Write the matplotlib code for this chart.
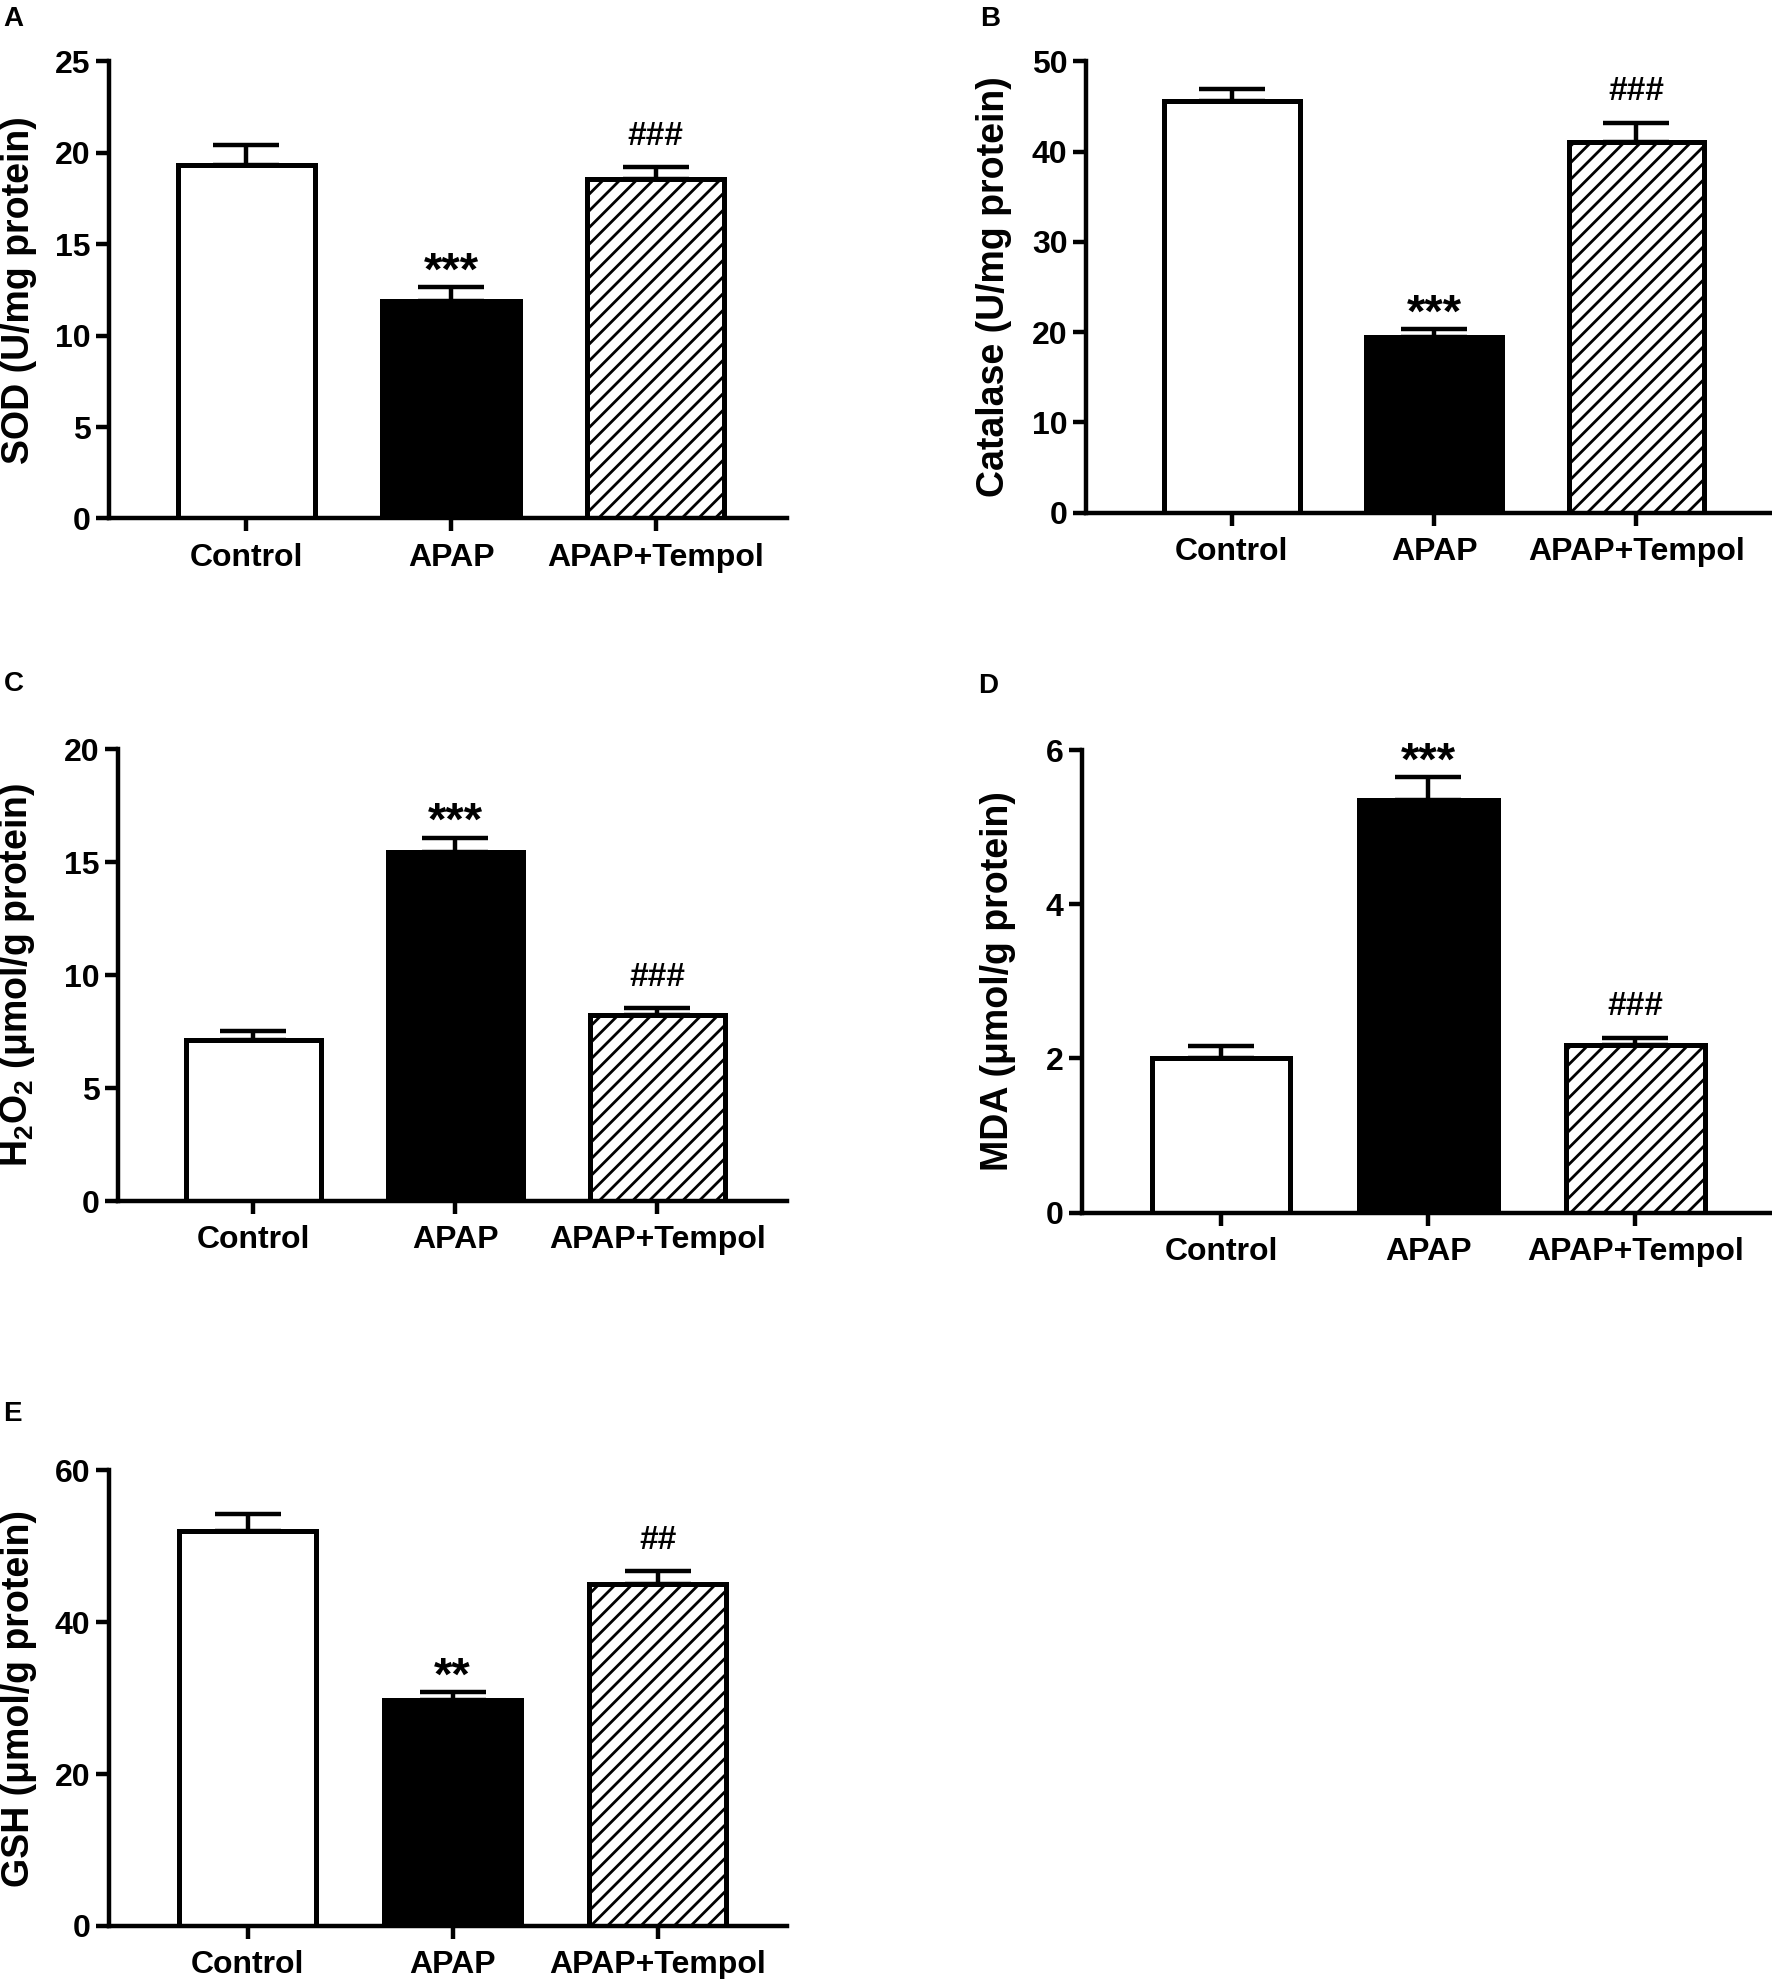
import matplotlib
matplotlib.use('Agg')
import matplotlib.pyplot as plt

plt.rcParams['font.family'] = ['Liberation Sans', 'DejaVu Sans']
plt.rcParams['font.weight'] = 'bold'
plt.rcParams['mathtext.default'] = 'regular'
plt.rcParams['hatch.linewidth'] = 1.0

# group names and measured values (mean, upper SEM)
groups = ['Control', 'APAP', 'APAP+Tempol']

sod_mean = [19.35, 11.9, 18.55]
sod_err = [1.05, 0.75, 0.68]
cat_mean = [45.6, 19.4, 41.1]
cat_err = [1.3, 0.9, 2.1]
h2o2_mean = [7.15, 15.45, 8.25]
h2o2_err = [0.4, 0.63, 0.3]
mda_mean = [2.0, 5.35, 2.17]
mda_err = [0.16, 0.3, 0.1]
gsh_mean = [52.0, 29.8, 45.0]
gsh_err = [2.3, 1.0, 1.7]

sod_sig = ['', '***', '###']
cat_sig = ['', '***', '###']
h2o2_sig = ['', '***', '###']
mda_sig = ['', '***', '###']
gsh_sig = ['', '**', '##']

sod_ticks = [0, 5, 10, 15, 20, 25]
cat_ticks = [0, 10, 20, 30, 40, 50]
h2o2_ticks = [0, 5, 10, 15, 20]
mda_ticks = [0, 2, 4, 6]
gsh_ticks = [0, 20, 40, 60]

fills = ['white', 'black', 'white']
hatches = [None, None, '////']

panels = [
    # letter, rect, xlim, ylabel, labelx, mean, err, sig, ticks, letter pos
    ('A', [0.0616, 0.738, 0.3824, 0.231], (-0.67, 2.64), 'SOD (U/mg protein)', -0.106,
     sod_mean, sod_err, sod_sig, sod_ticks, (0.002, 0.997)),
    ('B', [0.613, 0.741, 0.387, 0.228], (-0.72, 2.67), 'Catalase (U/mg protein)', -0.108,
     cat_mean, cat_err, cat_sig, cat_ticks, (0.553, 0.997)),
    ('C', [0.0666, 0.393, 0.3774, 0.2285], (-0.67, 2.64), r'H$_2$O$_2$ (μmol/g protein)', -0.121,
     h2o2_mean, h2o2_err, h2o2_sig, h2o2_ticks, (0.002, 0.661)),
    ('D', [0.6107, 0.3873, 0.3893, 0.2337], (-0.67, 2.66), 'MDA (μmol/g protein)', -0.096,
     mda_mean, mda_err, mda_sig, mda_ticks, (0.552, 0.660)),
    ('E', [0.0616, 0.0268, 0.3824, 0.2302], (-0.675, 2.63), 'GSH (μmol/g protein)', -0.106,
     gsh_mean, gsh_err, gsh_sig, gsh_ticks, (0.002, 0.292)),
]

fig = plt.figure(figsize=(8.86, 9.895), dpi=200)

for letter, rect, xlim, ylabel, labelx, mean, err, sig, ticks, lpos in panels:
    ax = fig.add_axes(rect)
    x = list(range(len(groups)))
    ax.bar(x, mean, width=0.67, color=fills, edgecolor='black', linewidth=1.8,
           hatch=hatches, zorder=2)
    ax.errorbar(x, mean, yerr=[[0] * len(err), err], fmt='none', ecolor='black',
                elinewidth=1.6, capsize=12, capthick=1.6, zorder=3)
    for xi, m, e, s in zip(x, mean, err, sig):
        if not s:
            continue
        if s.startswith('*'):
            ax.annotate(s, (xi, m + e), xytext=(0, 1), textcoords='offset points',
                        ha='center', va='baseline', fontsize=17, fontweight='bold',
                        annotation_clip=False)
        else:
            ax.annotate(s, (xi, m + e), xytext=(0, 8), textcoords='offset points',
                        ha='center', va='baseline', fontsize=12, fontweight='bold',
                        annotation_clip=False)
    ax.set_xlim(*xlim)
    ax.set_ylim(0, ticks[-1])
    ax.set_yticks(ticks)
    ax.set_xticks(x)
    ax.set_xticklabels(groups)
    for side in ['top', 'right']:
        ax.spines[side].set_visible(False)
    for side in ['left', 'bottom']:
        ax.spines[side].set_linewidth(1.6)
    ax.tick_params(axis='both', direction='out', length=4.7, width=1.6,
                   labelsize=11.5)
    ax.tick_params(axis='y', pad=2)
    ax.tick_params(axis='x', pad=4)
    for lab in ax.get_xticklabels() + ax.get_yticklabels():
        lab.set_fontweight('bold')
    ax.set_ylabel(ylabel, fontsize=13.5, fontweight='bold')
    ax.yaxis.set_label_coords(labelx, 0.5)
    fig.text(lpos[0], lpos[1], letter, fontsize=10, fontweight='bold',
             ha='left', va='top')

fig.savefig('out.png', dpi=200, facecolor='white')
